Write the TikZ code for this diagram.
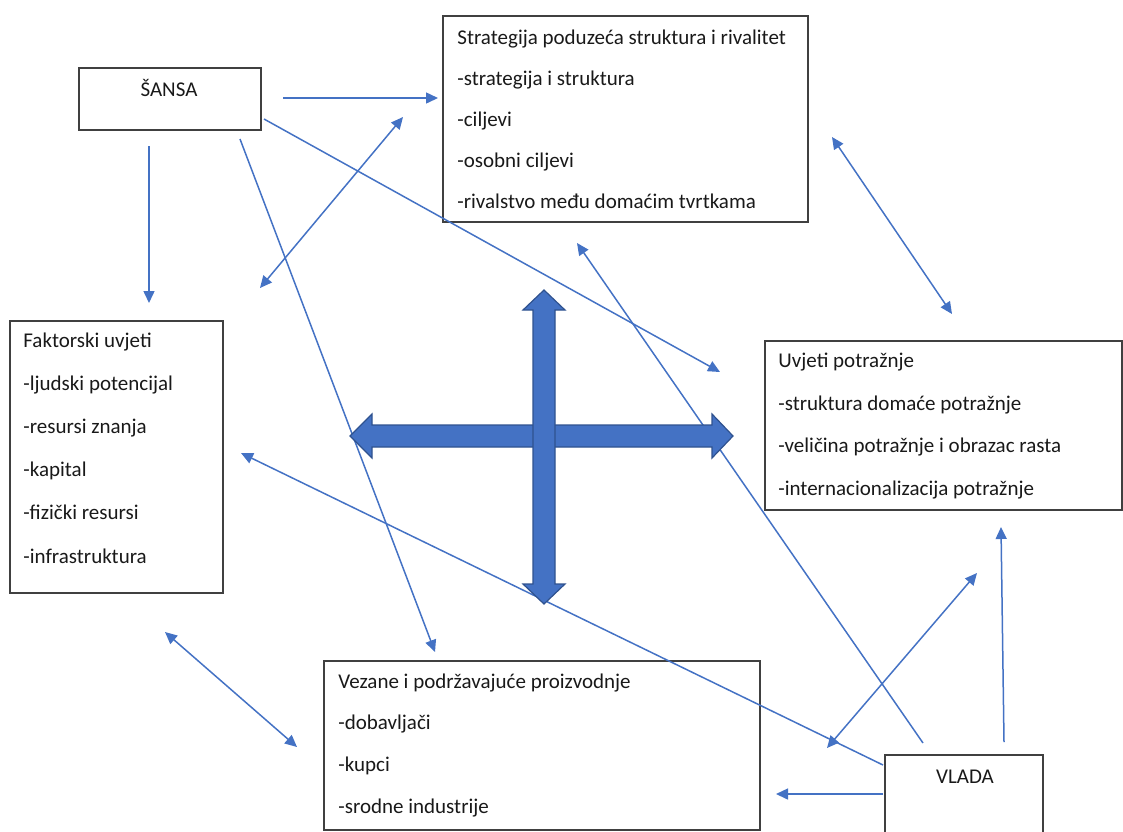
\documentclass[tikz,border=0pt]{standalone}
\usepackage{fontspec}
\setmainfont{Carlito}
\usetikzlibrary{arrows.meta}

\definecolor{linkblue}{HTML}{4472C4}
\definecolor{crossedge}{HTML}{2F528F}
\definecolor{boxgray}{HTML}{404040}

\tikzset{
  frame/.style={draw=boxgray, line width=1pt, inner sep=0pt},
  % multi-line text, placed by the baseline of its last line
  lines/.style={anchor=base west, align=left, inner sep=0pt, text=black!90,
    font=\fontsize{10.5}{21}\selectfont},
  title/.style={anchor=base, inner sep=0pt, text=black!90,
    font=\fontsize{10.5}{21}\selectfont},
  link/.style={draw=linkblue, line width=0.75pt, -{Triangle[length=6pt,width=5.5pt]}},
  twoway/.style={link, {Triangle[length=6pt,width=5.5pt]}-{Triangle[length=6pt,width=5.5pt]}},
  cross/.style={fill=linkblue, draw=crossedge, line width=0.6pt, line join=miter}
}

\begin{document}
\begin{tikzpicture}[x=0.5pt, y=-0.5pt]
  \useasboundingbox (0,0) rectangle (1123,831);
  \clip (0,0) rectangle (1123,831);

  % Drawing box Sansa
  \node [frame, minimum width=91pt, minimum height=31pt] (sansa) at (170,99) {};
  \node [title] (sansaText) at (169,96) {ŠANSA};

  % Drawing box Strategija
  \node [frame, minimum width=182.5pt, minimum height=103pt] (strat) at (625.5,119) {};
  \node [lines, font=\fontsize{10.5}{20.4}\selectfont] (stratText) at (457,208)
    {Strategija poduzeća struktura i rivalitet\\-strategija i struktura\\-ciljevi\\-osobni ciljevi\\-rivalstvo među domaćim tvrtkama};

  % Drawing box Faktorski uvjeti
  \node [frame, minimum width=106.5pt, minimum height=136pt] (faktor) at (116.5,457) {};
  \node [lines, font=\fontsize{10.5}{21.6}\selectfont] (faktorText) at (23,563)
    {Faktorski uvjeti\\-ljudski potencijal\\-resursi znanja\\-kapital\\-fizički resursi\\-infrastruktura};

  % Drawing box Uvjeti potraznje
  \node [frame, minimum width=178.5pt, minimum height=84.5pt] (uvjeti) at (943.5,425.5) {};
  \node [lines, font=\fontsize{10.5}{21.2}\selectfont] (uvjetiText) at (778,495)
    {Uvjeti potražnje\\-struktura domaće potražnje\\-veličina potražnje i obrazac rasta\\-internacionalizacija potražnje};

  % Drawing box Vezane
  \node [frame, minimum width=218pt, minimum height=84.5pt] (vezane) at (542,745.5) {};
  \node [lines, font=\fontsize{10.5}{20.8}\selectfont] (vezaneText) at (338,813)
    {Vezane i podržavajuće proizvodnje\\-dobavljači\\-kupci\\-srodne industrije};

  % Drawing box Vlada
  \node [frame, minimum width=79pt, minimum height=57.5pt] (vlada) at (964,812.5) {};
  \node [title] (vladaText) at (965,783) {VLADA};

  % Free ends of the connectors
  \coordinate (sansaA) at (283,98);    \coordinate (stratA) at (438,98);
  \coordinate (faktorB) at (260,288);  \coordinate (stratB) at (403,117);
  \coordinate (sansaC) at (264,119);   \coordinate (uvjetiC) at (720,372);
  \coordinate (sansaD) at (149,146);   \coordinate (faktorD) at (149,303);
  \coordinate (sansaE) at (240,139);   \coordinate (vezaneE) at (435,652);
  \coordinate (stratF) at (832,137);   \coordinate (uvjetiF) at (952,314);
  \coordinate (vladaG) at (923,743);   \coordinate (stratG) at (577,243);
  \coordinate (vladaH) at (883,765);   \coordinate (faktorH) at (241,453);
  \coordinate (vladaI) at (1004,742);  \coordinate (uvjetiI) at (1001,527);
  \coordinate (vladaJ) at (883,794);   \coordinate (vezaneJ) at (776,794);
  \coordinate (faktorK) at (165,632);  \coordinate (vezaneK) at (297,747);
  \coordinate (vezaneL) at (827,748);  \coordinate (uvjetiL) at (977,573);

  % Drawing the connectors
  \draw [link] (sansaA) -- (stratA);
  \draw [twoway] (faktorB) -- (stratB);
  \draw [link] (sansaC) -- (uvjetiC);
  \draw [link] (sansaD) -- (faktorD);
  \draw [link] (sansaE) -- (vezaneE);
  \draw [twoway] (stratF) -- (uvjetiF);
  \draw [link] (vladaG) -- (stratG);
  \draw [link] (vladaH) -- (faktorH);
  \draw [link] (vladaI) -- (uvjetiI);
  \draw [link] (vladaJ) -- (vezaneJ);
  \draw [twoway] (faktorK) -- (vezaneK);
  \draw [twoway] (vezaneL) -- (uvjetiL);

  % Drawing the big cross, horizontal arrow
  \draw [cross] (350,436) -- (372,414) -- (372,425) -- (712,425) -- (712,414)
    -- (733,436) -- (712,458) -- (712,447) -- (372,447) -- (372,458) -- cycle;

  % Drawing the big cross, vertical arrow
  \draw [cross] (544,290) -- (565,310) -- (555,310) -- (555,584) -- (565,584)
    -- (544,604) -- (523,584) -- (533,584) -- (533,310) -- (523,310) -- cycle;
\end{tikzpicture}
\end{document}
